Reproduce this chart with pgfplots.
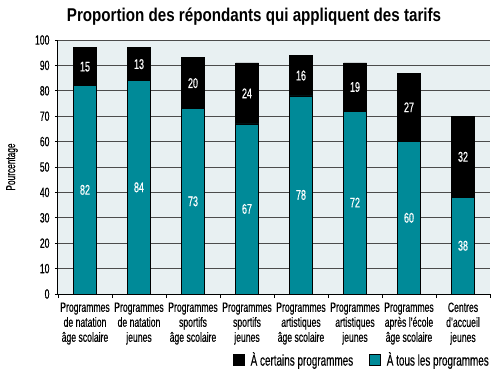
\documentclass[border=0pt]{standalone}
\usepackage{pgfplots}
\usepackage{pgfplotstable}
\pgfplotsset{compat=1.18}
\usepackage{fontspec}
\setmainfont{Liberation Sans}[FakeStretch=0.64, FakeBold=0.4]
\newfontfamily\titlefont{Liberation Sans}[FakeStretch=0.82]
\definecolor{tealbar}{RGB}{0,138,152}
\definecolor{bgc}{RGB}{232,240,242}
\pgfplotstableread{
x tous certains
0 82 15
1 84 13
2 73 20
3 67 24
4 78 16
5 72 19
6 60 27
7 38 32
}\datatable
\pgfplotstableread{
x pos lab
0 41 82
1 42 84
2 36.5 73
3 33.5 67
4 39 78
5 36 72
6 30 60
7 19 38
0 89.5 15
1 90.5 13
2 83 20
3 79 24
4 86 16
5 81.5 19
6 73.5 27
7 54 32
}\labeltable
\begin{document}
\begin{tikzpicture}[x=1pt,y=1pt]
\path[use as bounding box] (0,0) rectangle (500,375);
\node[font=\titlefont\bfseries\fontsize{18.5}{18.5}\selectfont] at (254,358) {Proportion des répondants qui appliquent des tarifs};
\node[rotate=90, font=\fontsize{13}{13}\selectfont] at (12,208) {Pourcentage};
\begin{axis}[
  at={(58pt,81pt)}, anchor=south west,
  scale only axis, width=432pt, height=254pt,
  ybar stacked, bar width=23pt,
  xmin=-0.5, xmax=7.5, ymin=0, ymax=100,
  ytick={0,10,...,100},
  xtick={0,...,7},
  xticklabels={{Programmes\\de natation\\âge scolaire},{Programmes\\de natation\\jeunes},{Programmes\\sportifs\\âge scolaire},{Programmes\\sportifs\\jeunes},{Programmes\\artistiques\\âge scolaire},{Programmes\\artistiques\\jeunes},{Programmes\\après l’école\\âge scolaire},{Centres\\d’accueil\\jeunes}},
  minor xtick={-0.5,0.5,...,7.5},
  major x tick style={draw=none},
  minor x tick style={black, line width=0.8pt},
  minor tick length=4pt,
  major tick length=3pt,
  ytick style={black, line width=0.8pt},
  tick align=outside,
  axis x line*=bottom, axis y line*=left,
  axis line style={black, line width=1pt},
  ymajorgrids, major grid style={black!70, line width=0.7pt},
  axis background/.style={fill=bgc},
  /pgf/number format/assume math mode=true,
  tick label style={font=\fontsize{13.5}{15}\selectfont},
  xticklabel style={align=center, yshift=-2pt},
  yticklabel style={xshift=-2pt},
  legend columns=2,
  reverse legend,
  legend style={at={(1,0)}, anchor=north east, yshift=-54pt, xshift=4pt, draw=none, fill=none, font=\fontsize{15.5}{15.5}\selectfont, /tikz/every even column/.append style={column sep=14pt}, /tikz/every odd column/.append style={column sep=4pt}},
  area legend,
  legend image code/.code={\fill[#1] (0pt,-5.5pt) rectangle (11pt,5.5pt);},
]
\addplot[fill=tealbar, draw=black, line width=0.6pt] table[x=x, y=tous] {\datatable};
\addlegendentry{À tous les programmes}
\addplot[fill=black, draw=black, line width=0.6pt] table[x=x, y=certains] {\datatable};
\addlegendentry{À certains programmes}
\end{axis}
\begin{axis}[
  at={(58pt,81pt)}, anchor=south west,
  scale only axis, width=432pt, height=254pt,
  xmin=-0.5, xmax=7.5, ymin=0, ymax=100,
  hide axis,
]
\addplot[draw=none, mark=none, point meta=explicit symbolic,
  nodes near coords,
  every node near coord/.append style={text=white, anchor=center, font=\fontsize{14}{14}\selectfont}]
  table[x=x, y=pos, meta=lab] {\labeltable};
\end{axis}
\end{tikzpicture}
\end{document}
